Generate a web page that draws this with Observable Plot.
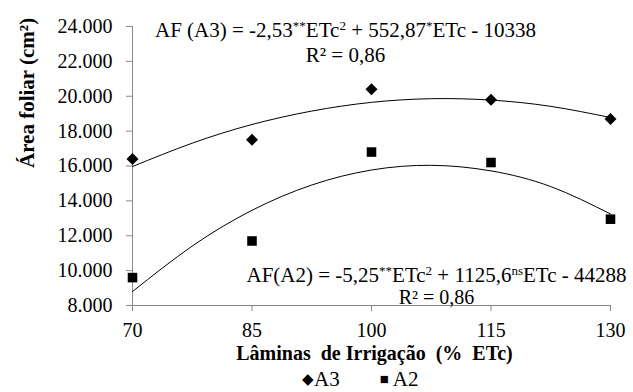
<!DOCTYPE html>
<html>
<head>
<meta charset="utf-8">
<script src="https://cdn.jsdelivr.net/npm/d3@7"></script>
<script src="https://cdn.jsdelivr.net/npm/@observablehq/plot@0.6"></script>
<style>
  html, body { margin: 0; padding: 0; background: #fff; }
  #wrap { position: relative; width: 633px; height: 392px; font-family: "Liberation Serif", "Times New Roman", serif; }
  #legend { position: absolute; left: 302px; top: 368px; font-size: 21px; line-height: 22px; color: #000; white-space: nowrap; }
  #legend span.sym { font-size: 15px; position: relative; top: -2px; }
  svg text { font-family: "Liberation Serif", "Times New Roman", serif; }
</style>
</head>
<body>
<div id="wrap">
  <div id="chart"></div>
  <div id="legend"><span class="sym">◆</span>A3<span style="display:inline-block;width:40px"></span><span class="sym">■</span> A2</div>
</div>
<script>
// ---- data ----
const laminas = [70, 85, 100, 115, 130];
const areaA3 = [16400, 17500, 20400, 19800, 18700];
const areaA2 = [9600, 11700, 16800, 16200, 12950];

// trend curves
const trendX  = [70, 77.5, 85, 92.5, 100, 107.5, 115, 122.5, 130];
const trendA3 = [15970, 17310, 18380, 19150, 19650, 19860, 19780, 19420, 18780];
const trendA2 = [8800, 11410, 13460, 14910, 15770, 16040, 15720, 14820, 13250];

const xTicks = [70, 85, 100, 115, 130];
const yTicks = [8000, 10000, 12000, 14000, 16000, 18000, 20000, 22000, 24000];

const xLabel = "Lâminas  de Irrigação  (%  ETc)";
const yLabel = "Área foliar (cm²)";

// equation segments: [text, superscript?]
const eqA3 = [["AF (A3) = -2,53", false], ["**", true], ["ETc", false], ["2", true], [" + 552,87", false], ["*", true], ["ETc - 10338", false]];
const eqA2 = [["AF(A2) = -5,25", false], ["**", true], ["ETc", false], ["2", true], [" + 1125,6", false], ["ns", true], ["ETc - 44288", false]];
const r2A3 = "R² = 0,86";
const r2A2 = "R² = 0,86";

// ---- build ----
const ptLocale = d3.formatLocale({decimal: ",", thousands: ".", grouping: [3], currency: ["", ""]});
const fmt = ptLocale.format(",");

const ptsA3 = laminas.map((x, i) => ({x, y: areaA3[i]}));
const ptsA2 = laminas.map((x, i) => ({x, y: areaA2[i]}));
const tA3 = trendX.map((x, i) => ({x, y: trendA3[i]}));
const tA2 = trendX.map((x, i) => ({x, y: trendA2[i]}));

const font = "'Liberation Serif', 'Times New Roman', serif";

const chart = Plot.plot({
  width: 633,
  height: 366,
  marginLeft: 132,
  marginRight: 23,
  marginTop: 26,
  marginBottom: 61,
  style: {fontFamily: font, background: "#fff", color: "#000", overflow: "visible"},
  x: {domain: [70, 130]},
  y: {domain: [8000, 24000]},
  marks: [
    Plot.axisY({ticks: yTicks, tickFormat: fmt, tickSize: 6, tickPadding: 14, fontSize: 20, label: null, stroke: "#888", color: "#000"}),
    Plot.axisX({ticks: xTicks, tickSize: 6, tickPadding: 11, fontSize: 20, label: null, stroke: "#888"}),
    Plot.ruleX([70], {stroke: "#888", strokeWidth: 1}),
    Plot.ruleY([8000], {stroke: "#888", strokeWidth: 1}),
    Plot.line(tA3, {x: "x", y: "y", curve: "natural", stroke: "#000", strokeWidth: 1}),
    Plot.line(tA2, {x: "x", y: "y", curve: "natural", stroke: "#000", strokeWidth: 1}),
    Plot.dot(ptsA3, {x: "x", y: "y", symbol: "diamond2", r: 5.4, fill: "#000", stroke: "none"}),
    Plot.dot(ptsA2, {x: "x", y: "y", symbol: "square", r: 5.4, fill: "#000", stroke: "none"}),
    Plot.text([yLabel], {frameAnchor: "left", rotate: -90, dx: -105, dy: 2, fontSize: 21, fontWeight: "bold", fill: "#000"}),
    Plot.text([xLabel], {frameAnchor: "bottom", dx: 3, dy: 54, fontSize: 20, fontWeight: "bold", fill: "#000", className: "xlab"}),
    Plot.text([eqA3.map(d => d[0]).join("")], {frameAnchor: "top", dx: -26, dy: -4, fontSize: 21, fill: "#000", className: "eqA3"}),
    Plot.text([r2A3], {frameAnchor: "top", dx: -26, dy: 21, fontSize: 21, fill: "#000"}),
    Plot.text([eqA2.map(d => d[0]).join("")], {frameAnchor: "top", dx: 65, dy: 241, fontSize: 21, fill: "#000", className: "eqA2"}),
    Plot.text([r2A2], {frameAnchor: "top", dx: 65, dy: 263, fontSize: 20, fill: "#000"})
  ]
});

function superscripts(cls, segs) {
  d3.select(chart).selectAll("g." + cls + " text").each(function() {
    const t = d3.select(this);
    t.text(null);
    segs.forEach(([s, sup]) => {
      const ts = t.append("tspan").text(s);
      if (sup) ts.attr("baseline-shift", "super").attr("font-size", "13px");
    });
  });
}
superscripts("eqA3", eqA3);
superscripts("eqA2", eqA2);
d3.select(chart).selectAll("g.xlab text").attr("xml:space", "preserve").style("white-space", "pre");

document.getElementById("chart").appendChild(chart);
</script>
</body>
</html>
